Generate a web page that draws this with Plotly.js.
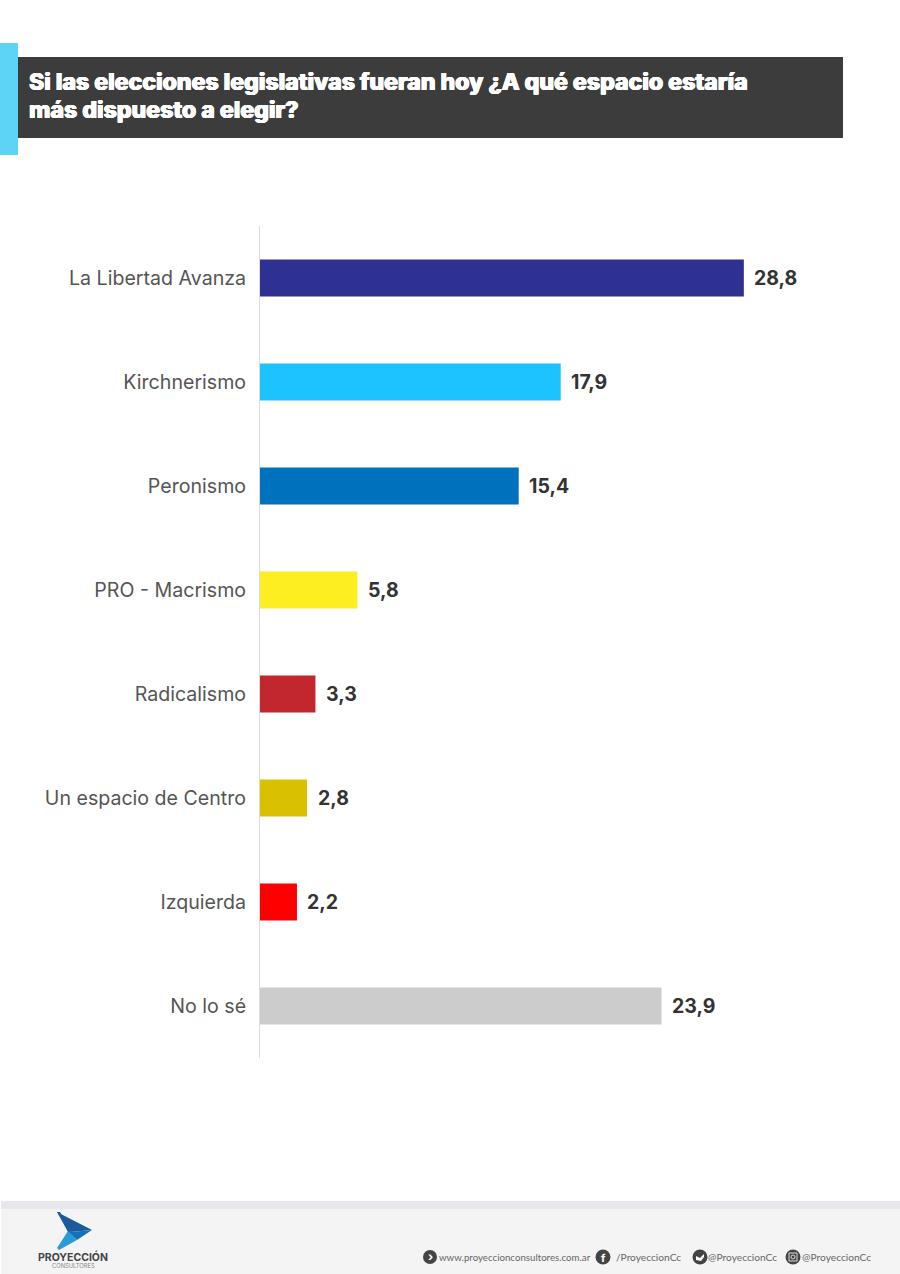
<!DOCTYPE html>
<html>
<head>
<meta charset="utf-8">
<script src="https://cdn.plot.ly/plotly-3.0.1.min.js"></script>
<style>html,body{margin:0;padding:0;background:#fff}#chart{width:900px;height:1274px}</style>
</head>
<body>
<div id="chart"></div>
<script>
const categories = ["La Libertad Avanza","Kirchnerismo","Peronismo","PRO - Macrismo","Radicalismo","Un espacio de Centro","Izquierda","No lo sé"];
const values = [28.8,17.9,15.4,5.8,3.3,2.8,2.2,23.9];
const barColors = ["#2e3192","#1cc3ff","#0071bc","#fcee21","#c1272d","#d9c000","#ff0000","#cccccc"];
const titleLines = ["Si las elecciones legislativas fueran hoy ¿A qué espacio estaría","más dispuesto a elegir?"];
const footerTexts = ["www.proyeccionconsultores.com.ar","/ProyeccionCc","@ProyeccionCc","@ProyeccionCc"];

const W = 900, H = 1274;
const M = {l:260, r:60, t:226, b:216};
const PW = W-M.l-M.r, PH = H-M.t-M.b;
const fx = x => (x-M.l)/PW;
const fy = y => 1-(y-M.t)/PH;
const base = {xref:'paper', yref:'paper', layer:'below'};
const rect = (x0,y0,x1,y1,color) => Object.assign({}, base, {type:'rect',x0:fx(x0),x1:fx(x1),y0:fy(y0),y1:fy(y1),fillcolor:color,line:{width:0}});
const circle = (cx,cy,r,color) => Object.assign({}, base, {type:'circle',x0:fx(cx-r),x1:fx(cx+r),y0:fy(cy-r),y1:fy(cy+r),fillcolor:color,line:{width:0}});
const poly = (pts,color) => Object.assign({}, base, {type:'path',path:'M'+pts.map(p=>fx(p[0])+','+fy(p[1])).join(' L')+' Z',fillcolor:color,line:{width:0}});
const label = (x,y,text,size,color,anchor,family,weight,extra) => Object.assign({xref:'paper',yref:'paper',x:fx(x),y:fy(y),text:text,showarrow:false,xanchor:anchor,yanchor:'middle',font:Object.assign({size:size,color:color,family:family,weight:weight},extra||{})});

const shapes = [
  rect(18,57,843,138,'#3c3c3c'),
  rect(0,43,18,155,'#5dd3f5'),
  rect(1,1201,900,1209,'#e7e8eb'),
  rect(1,1209,900,1274,'#f4f4f5'),
  poly([[57,1212],[92,1230],[71,1232]],'#1d5a9a'),
  poly([[57,1212],[60,1212],[71,1232],[68,1232]],'#1d5a9a'),
  poly([[92,1230],[71,1232],[68,1232],[77,1240]],'#1572b8'),
  poly([[68,1231],[77,1240],[59,1250],[57,1248]],'#2a9bd6'),
  circle(430,1257,7,'#444'),
  circle(603,1257,7.5,'#444'),
  circle(700,1257,7.5,'#444'),
  circle(793,1257,7.5,'#444'),
  Object.assign({}, base, {layer:'above',type:'path',path:'M'+[[696,1256],[700,1258],[704,1254],[704,1257],[701,1261],[696,1260]].map(p=>fx(p[0])+','+fy(p[1])).join(' L')+' Z',fillcolor:'#fff',line:{width:0}}),
  Object.assign({}, base, {layer:'above',type:'rect',x0:fx(789),x1:fx(797),y0:fy(1253),y1:fy(1261),line:{color:'#ddd',width:1},fillcolor:'rgba(0,0,0,0)'}),
  Object.assign({}, base, {layer:'above',type:'circle',x0:fx(791),x1:fx(795),y0:fy(1255),y1:fy(1259),line:{color:'#ddd',width:1},fillcolor:'rgba(0,0,0,0)'})
];

const mainFont = 'Inter, Arial, sans-serif';
const heavy = {shadow:'0.6px 0 0 #fff, -0.6px 0 0 #fff, 0 0.4px 0 #fff, 0 -0.4px 0 #fff'};
const valueLabels = values.map((v,i)=>({
  xref:'x', yref:'y', x:v, y:categories[i],
  text:v.toFixed(1).replace('.',','),
  showarrow:false, xanchor:'left', yanchor:'middle', xshift:8.5,
  font:{family:mainFont,size:19.5,color:'#333333',weight:700}
}));
const annotations = valueLabels.concat([
  label(26.5,81.5,titleLines[0],23.1,'#ffffff','left',mainFont,800,heavy),
  label(26.5,110.5,titleLines[1],23.1,'#ffffff','left',mainFont,800,heavy),
  label(73,1257,'PROYECCIÓN',10.5,'#444','center',mainFont,700),
  label(73,1265.5,'CONSULTORES',5.8,'#888','center',mainFont,400),
  label(437,1257,footerTexts[0],9.7,'#666','left','Lato, sans-serif',400),
  label(614,1257,footerTexts[1],10.2,'#666','left','Lato, sans-serif',400),
  label(706,1257,footerTexts[2],10.2,'#666','left','Lato, sans-serif',400),
  label(800,1257,footerTexts[3],10.2,'#666','left','Lato, sans-serif',400),
  label(430.3,1256.5,'›',12,'#fff','center',mainFont,700),
  label(603,1257.5,'f',11,'#fff','center',mainFont,700)
]);

const trace = {
  type:'bar', orientation:'h',
  y:categories, x:values,
  marker:{color:barColors, line:{width:0}},
  hoverinfo:'skip'
};

const layout = {
  width:W, height:H,
  margin:{l:M.l,r:M.r,t:M.t,b:M.b,autoexpand:false},
  paper_bgcolor:'#ffffff', plot_bgcolor:'#ffffff',
  showlegend:false,
  bargap:0.644,
  font:{family:mainFont},
  xaxis:{range:[0,PW/16.8],visible:false,fixedrange:true},
  yaxis:{
    type:'category', autorange:false, range:[7.5,-0.5],
    showline:true, linecolor:'#dcdcdc', linewidth:1,
    showgrid:false, zeroline:false,
    ticks:'outside', ticklen:9, tickcolor:'rgba(0,0,0,0)',
    tickfont:{family:mainFont,size:19.6,color:'#555555'},
    fixedrange:true
  },
  shapes:shapes,
  annotations:annotations
};
Plotly.newPlot('chart',[trace],layout,{displayModeBar:false,staticPlot:true});
</script>
</body>
</html>
